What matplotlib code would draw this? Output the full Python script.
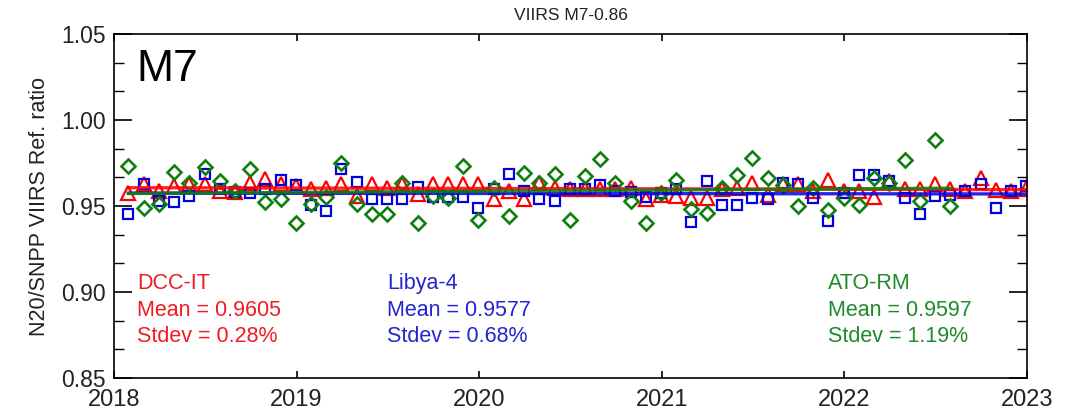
import numpy as np
import matplotlib
matplotlib.use("Agg")
import matplotlib.pyplot as plt
from matplotlib.ticker import MultipleLocator

plt.rcParams['font.family'] = ['Liberation Sans', 'DejaVu Sans']

# Monthly index (months since Jan 2018)
months_all = np.arange(60)

dcc_it = [0.9577, 0.9626, 0.9587, 0.9616, 0.9626, 0.9626, 0.9587, 0.9583, 0.9635, 0.9655,
          0.9626, 0.9616, 0.9597, 0.9606, 0.9626, 0.9558, 0.9626, 0.9606, 0.9626, 0.9568,
          0.9626, 0.9626, 0.9626, 0.9626, 0.9539, 0.9587, 0.9539, 0.9636, 0.9606, 0.9597,
          0.9597, 0.9597, 0.9597, 0.9606, 0.9539, 0.9564, 0.9558, 0.9548, 0.9548, 0.9597,
          0.9606, 0.9636, 0.9564, 0.9626, 0.9626, 0.9587, 0.9649, 0.9587, 0.9587, 0.9550,
          0.9645, 0.9597, 0.9597, 0.9630, 0.9597, 0.9587, 0.9661, 0.9591, 0.9587, 0.9600]

libya4 = [0.9455, 0.9626, 0.9529, 0.9525, 0.9558, 0.9687, 0.9597, 0.9583, 0.9577, 0.9597,
          0.9651, 0.9620, 0.9506, 0.9473, 0.9713, 0.9641, 0.9540, 0.9540, 0.9540, 0.9613,
          0.9550, 0.9550, 0.9550, 0.9486, 0.9597, 0.9687, 0.9587, 0.9538, 0.9529, 0.9597,
          0.9597, 0.9620, 0.9587, 0.9580, 0.9550, 0.9577, 0.9597, 0.9409, 0.9645, 0.9506,
          0.9506, 0.9548, 0.9539, 0.9636, 0.9626, 0.9548, 0.9413, 0.9577, 0.9680, 0.9680,
          0.9645, 0.9548, 0.9455, 0.9558, 0.9564, 0.9587, 0.9630, 0.9490, 0.9587, 0.9616]

ato_rm = [0.9735, 0.9487, 0.9513, 0.9700, 0.9636, 0.9728, 0.9647, 0.9585, 0.9718, 0.9524,
          0.9543, 0.9400, 0.9512, 0.9550, 0.9751, 0.9510, 0.9452, 0.9452, 0.9636, 0.9403,
          0.9558, 0.9545, 0.9733, 0.9417, 0.9603, 0.9442, 0.9693, 0.9636, 0.9687, 0.9417,
          0.9672, 0.9775, 0.9636, 0.9529, 0.9403, 0.9577, 0.9649, 0.9480, 0.9460, 0.9606,
          0.9680, 0.9777, 0.9661, 0.9620, 0.9500, 0.9606, 0.9475, 0.9547, 0.9506, 0.9665,
          0.9636, 0.9766, 0.9529, 0.9886, 0.9500]

year_ticks = [2018, 2019, 2020, 2021, 2022, 2023]
y_ticks = [0.85, 0.90, 0.95, 1.00, 1.05]

stats = {
    'DCC-IT': ('0.9605', '0.28%'),
    'Libya-4': ('0.9577', '0.68%'),
    'ATO-RM': ('0.9597', '1.19%'),
}

RED = '#ff0000'
BLUE = '#0000e0'
GREEN = '#108010'
RED_TXT = '#ee1c24'
BLUE_TXT = '#2424d0'
GREEN_TXT = '#1e8a2a'

t_all = 2018 + (months_all + 0.95) / 12.0
t_ato = t_all[:len(ato_rm)]

fig = plt.figure(figsize=(10.72, 4.18), dpi=100)
ax = fig.add_axes([114/1072, 1 - 378/418, (1027-114)/1072, (378-34)/418])

ax.plot(t_all, dcc_it, linestyle='none', marker='^', markersize=10,
        markerfacecolor='none', markeredgecolor=RED, markeredgewidth=1.6)
ax.plot(t_all, libya4, linestyle='none', marker='s', markersize=7.8,
        markerfacecolor='none', markeredgecolor=BLUE, markeredgewidth=1.6)
ax.plot(t_ato, ato_rm, linestyle='none', marker='D', markersize=6.8,
        markerfacecolor='none', markeredgecolor=GREEN, markeredgewidth=1.9)

for t, v, c in [(t_all, dcc_it, RED), (t_all, libya4, BLUE), (t_ato, ato_rm, GREEN)]:
    p = np.polyfit(t, v, 1)
    ax.plot(t, np.polyval(p, t), color=c, linewidth=2.4, alpha=0.85)

ax.set_xlim(2018, 2023)
ax.set_ylim(0.85, 1.05)
ax.set_xticks(year_ticks)
ax.set_xticklabels([str(y) for y in year_ticks])
ax.set_yticks(y_ticks)
ax.set_yticklabels(['%.2f' % v for v in y_ticks])
ax.yaxis.set_minor_locator(MultipleLocator(0.05 / 3))

ax.tick_params(axis='both', which='both', direction='in', top=True, right=True, color='black')
ax.tick_params(axis='y', which='major', length=13, width=1.2, labelsize=16.5, pad=6,
               labelcolor='#222222')
ax.tick_params(axis='y', which='minor', length=7.5, width=1.0)
ax.tick_params(axis='x', which='major', length=5, width=1.2, labelsize=17, pad=8,
               labelcolor='#222222')
for s in ax.spines.values():
    s.set_linewidth(1.2)

ax.set_ylabel('N20/SNPP VIIRS Ref. ratio', fontsize=15.5, labelpad=8, color='#222222')
fig.text(571/1072, 1 - 16/418, 'VIIRS M7-0.86', ha='center', va='center', fontsize=12.5,
         color='#222222')
ax.text(0.025, 0.955, 'M7', transform=ax.transAxes, fontsize=32, ha='left', va='top')

def block(x_px, name, color):
    mean, sd = stats[name]
    for i, s in enumerate([name, 'Mean = ' + mean, 'Stdev = ' + sd]):
        fig.text(x_px/1072, 1 - (289 + 26.5*i)/418, s, color=color,
                 fontsize=15.5, ha='left', va='baseline')

block(137, 'DCC-IT', RED_TXT)
block(387, 'Libya-4', BLUE_TXT)
block(828, 'ATO-RM', GREEN_TXT)

fig.savefig('out.png', dpi=100)
